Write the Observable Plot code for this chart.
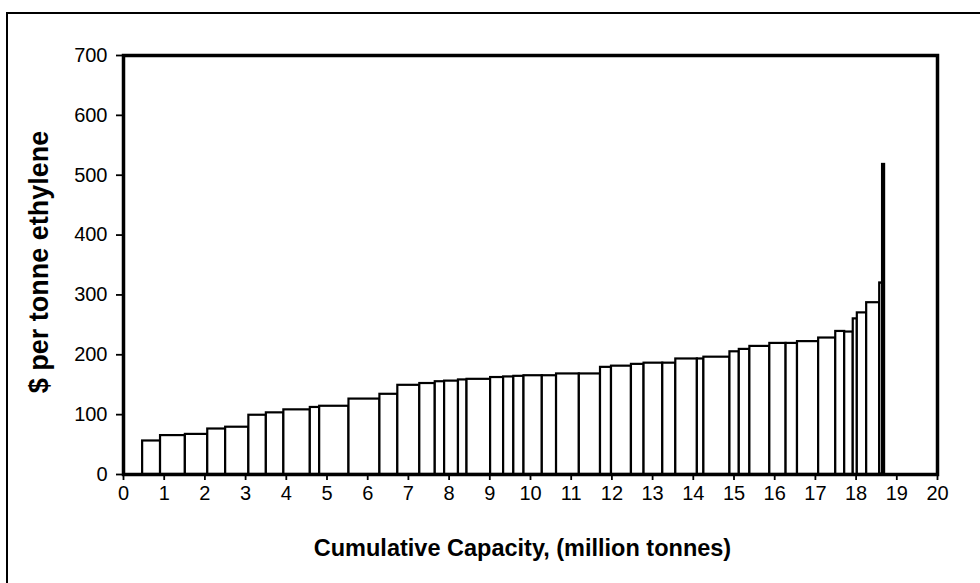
<!DOCTYPE html>
<html>
<head>
<meta charset="utf-8">
<script src="https://cdn.jsdelivr.net/npm/d3@7"></script>
<script src="https://cdn.jsdelivr.net/npm/@observablehq/plot@0.6"></script>
<style>
  html, body { margin: 0; padding: 0; background: #fff; overflow: hidden; }
  #wrap { position: relative; width: 980px; height: 583px; }
  #border { position: absolute; left: 6px; top: 12px; width: 1000px; height: 700px;
            border-left: 2px solid #000; border-top: 2px solid #000; pointer-events: none; }
</style>
</head>
<body>
<div id="wrap"><div id="border"></div></div>
<script>
// Cumulative capacity boundaries (million tonnes) of the plants, left to right
const capacityEdges = [0.47, 0.91, 1.52, 2.07, 2.51, 3.08, 3.51, 3.94, 4.59, 4.82, 5.54, 6.30, 6.74, 7.28, 7.66, 7.89, 8.23, 8.44, 9.02, 9.34, 9.59, 9.84, 10.29, 10.64, 11.20, 11.72, 11.99, 12.48, 12.79, 13.25, 13.57, 14.10, 14.26, 14.90, 15.13, 15.39, 15.88, 16.28, 16.56, 17.08, 17.50, 17.72, 17.93, 18.03, 18.26, 18.58, 18.65, 18.70];
// Cash cost ($ per tonne ethylene) of each plant
const costs = [56, 65, 67, 76, 79, 99, 103, 108, 112, 114, 126, 134, 149, 152, 155, 156, 158, 159, 162, 163, 164, 165, 165, 168, 168, 179, 181, 184, 186, 186, 193, 193, 196, 205, 209, 214, 219, 219, 222, 228, 239, 238, 260, 270, 287, 320, 518];
const xTicks = d3.range(0, 21, 1);
const yTicks = d3.range(0, 701, 100);
const xTitle = "Cumulative Capacity, (million tonnes)";
const yTitle = "$ per tonne ethylene";

const bars = costs.map((c, i) => ({start: capacityEdges[i], end: capacityEdges[i + 1], cost: c}));

const chart = Plot.plot({
  width: 980,
  height: 583,
  marginLeft: 123,
  marginRight: 43,
  marginTop: 55,
  marginBottom: 109,
  style: {fontFamily: "'Liberation Sans', Arial, sans-serif", fontSize: "20px", background: "transparent", color: "#000"},
  x: {domain: [0, 20]},
  y: {domain: [0, 700]},
  marks: [
    Plot.rect(bars, {x1: "start", x2: "end", y1: 0, y2: "cost", fill: "white", stroke: "black", strokeWidth: 2.2}),
    Plot.frame({stroke: "black", strokeWidth: 3.5}),
    Plot.axisX({ticks: xTicks, tickSize: 6, tickPadding: 5, label: null, strokeWidth: 1.8, fontSize: 20}),
    Plot.axisY({ticks: yTicks, tickSize: 7, tickPadding: 9, label: null, strokeWidth: 1.8, fontSize: 20}),
    Plot.text([xTitle], {text: d => d, frameAnchor: "bottom", dx: -8, dy: 74, fontWeight: "bold", fontSize: 23.5, textAnchor: "middle", lineAnchor: "middle"}),
    Plot.text([yTitle], {text: d => d, frameAnchor: "left", dx: -84, dy: -3, rotate: -90, fontWeight: "bold", fontSize: 27, textAnchor: "middle", lineAnchor: "middle"})
  ]
});
chart.style.position = "absolute";
chart.style.left = "0";
chart.style.top = "0";
document.getElementById("wrap").prepend(chart);
</script>
</body>
</html>
